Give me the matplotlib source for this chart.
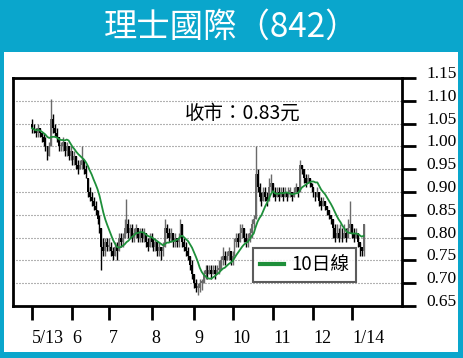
import matplotlib
matplotlib.use("Agg")
import matplotlib.pyplot as plt
from matplotlib.patches import Rectangle
import numpy as np
import pandas as pd

plt.rcParams["lines.scale_dashes"] = False

# ---------------- data ----------------
title = "理士國際（842）"
close_note = "收市：0.83元"
ma_label = "10日線"
start_date, end_date = "2013-05-02", "2014-01-10"
holidays = ["2013-05-17", "2013-06-12", "2013-07-01", "2013-09-20",
            "2013-10-01", "2013-10-14", "2013-12-25", "2013-12-26", "2014-01-01"]
month_labels = ["5/13", "6", "7", "8", "9", "10", "11", "12", "1/14"]
y_ticks = [0.65, 0.70, 0.75, 0.80, 0.85, 0.90, 0.95, 1.00, 1.05, 1.10, 1.15]

opens = [1.05, 1.04, 1.035, 1.03, 1.04, 1.03, 1.02, 1.01, 1.00, 0.98, 1.00, 1.06, 1.04, 1.03, 1.02, 1.00, 1.00, 1.01, 0.99, 1.00, 0.98,
         0.99, 0.97, 0.98, 0.96, 0.95, 0.96, 0.97, 0.95, 0.93, 0.90, 0.89, 0.88, 0.87, 0.86, 0.84, 0.82, 0.78, 0.77, 0.79,
         0.78, 0.78, 0.77, 0.76, 0.78, 0.77, 0.80, 0.79, 0.80, 0.82, 0.83, 0.81, 0.82, 0.80, 0.81, 0.82, 0.80, 0.81, 0.80, 0.81, 0.79, 0.78,
         0.80, 0.79, 0.78, 0.79, 0.77, 0.78, 0.77, 0.78, 0.82, 0.81, 0.80, 0.81, 0.79, 0.80, 0.79, 0.80, 0.83, 0.79, 0.78, 0.77, 0.76, 0.74,
         0.72, 0.70, 0.69, 0.69, 0.70, 0.70, 0.72, 0.73, 0.72, 0.73, 0.72, 0.73, 0.72, 0.73, 0.73, 0.75, 0.76, 0.75, 0.76, 0.77,
         0.75, 0.76, 0.79, 0.80, 0.79, 0.81, 0.82, 0.80, 0.79, 0.80, 0.81, 0.83, 0.84, 0.94, 0.91, 0.89, 0.88, 0.90, 0.89, 0.88, 0.91,
         0.92, 0.90, 0.89, 0.90, 0.89, 0.90, 0.89, 0.90, 0.89, 0.90, 0.90, 0.89, 0.90, 0.91, 0.90, 0.96, 0.95, 0.93, 0.92, 0.93, 0.92,
         0.91, 0.90, 0.89, 0.90, 0.88, 0.87, 0.88, 0.87, 0.86, 0.85, 0.84, 0.82, 0.80, 0.81, 0.80, 0.81, 0.80, 0.81, 0.80, 0.82,
         0.83, 0.81, 0.80, 0.81, 0.79, 0.78, 0.77]
highs = [1.06, 1.05, 1.04, 1.05, 1.04, 1.03, 1.03, 1.02, 1.00, 1.01, 1.105, 1.07, 1.05, 1.04, 1.02, 1.01, 1.02, 1.01, 1.01, 1.00, 1.00,
         0.99, 0.99, 0.98, 0.97, 0.97, 1.00, 0.97, 0.96, 0.93, 0.91, 0.90, 0.89, 0.88, 0.86, 0.85, 0.82, 0.80, 0.80, 0.80,
         0.80, 0.79, 0.78, 0.79, 0.79, 0.81, 0.81, 0.81, 0.84, 0.885, 0.84, 0.83, 0.83, 0.82, 0.83, 0.82, 0.82, 0.82, 0.82, 0.81, 0.80, 0.81,
         0.81, 0.80, 0.80, 0.79, 0.79, 0.78, 0.79, 0.84, 0.83, 0.82, 0.82, 0.81, 0.81, 0.80, 0.81, 0.84, 0.83, 0.80, 0.79, 0.78, 0.76, 0.75,
         0.72, 0.71, 0.70, 0.71, 0.71, 0.73, 0.74, 0.74, 0.74, 0.74, 0.74, 0.74, 0.74, 0.75, 0.76, 0.78, 0.77, 0.77, 0.78, 0.77,
         0.77, 0.80, 0.81, 0.81, 0.83, 0.83, 0.82, 0.81, 0.81, 0.82, 0.84, 0.85, 1.00, 0.95, 0.92, 0.90, 0.91, 0.91, 0.90, 0.93, 0.94,
         0.92, 0.91, 0.91, 0.91, 0.91, 0.91, 0.91, 0.90, 0.91, 0.91, 0.90, 0.91, 0.92, 0.91, 0.97, 0.96, 0.95, 0.94, 0.94, 0.93, 0.92,
         0.91, 0.90, 0.91, 0.90, 0.89, 0.89, 0.88, 0.87, 0.86, 0.85, 0.84, 0.83, 0.83, 0.82, 0.83, 0.82, 0.83, 0.82, 0.84, 0.88,
         0.83, 0.82, 0.82, 0.81, 0.79, 0.78, 0.83]
lows = [1.03, 1.03, 1.02, 1.02, 1.02, 1.01, 1.00, 0.99, 0.97, 0.98, 1.00, 1.03, 1.02, 1.01, 0.99, 0.99, 0.99, 0.98, 0.98, 0.97, 0.97,
        0.96, 0.96, 0.95, 0.94, 0.95, 0.95, 0.94, 0.93, 0.89, 0.88, 0.87, 0.86, 0.85, 0.83, 0.81, 0.73, 0.76, 0.76, 0.77,
        0.77, 0.76, 0.75, 0.76, 0.75, 0.77, 0.78, 0.78, 0.80, 0.81, 0.80, 0.80, 0.79, 0.79, 0.80, 0.79, 0.79, 0.79, 0.79, 0.78, 0.77, 0.78,
        0.78, 0.77, 0.77, 0.76, 0.76, 0.75, 0.76, 0.78, 0.80, 0.79, 0.79, 0.78, 0.78, 0.78, 0.78, 0.80, 0.78, 0.77, 0.76, 0.75, 0.73, 0.71,
        0.69, 0.68, 0.675, 0.68, 0.685, 0.70, 0.71, 0.71, 0.72, 0.71, 0.72, 0.71, 0.72, 0.72, 0.73, 0.74, 0.74, 0.75, 0.75, 0.74,
        0.74, 0.76, 0.78, 0.78, 0.79, 0.80, 0.79, 0.78, 0.78, 0.79, 0.80, 0.82, 0.84, 0.90, 0.88, 0.87, 0.88, 0.88, 0.87, 0.88, 0.90,
        0.89, 0.88, 0.89, 0.88, 0.89, 0.88, 0.89, 0.88, 0.89, 0.89, 0.88, 0.89, 0.90, 0.89, 0.90, 0.94, 0.92, 0.91, 0.92, 0.91, 0.90,
        0.89, 0.88, 0.89, 0.87, 0.86, 0.87, 0.86, 0.85, 0.84, 0.83, 0.80, 0.79, 0.80, 0.79, 0.80, 0.79, 0.80, 0.79, 0.80, 0.81,
        0.80, 0.79, 0.80, 0.78, 0.76, 0.76, 0.76]
closes = [1.04, 1.035, 1.03, 1.04, 1.03, 1.02, 1.01, 1.00, 0.98, 1.00, 1.06, 1.04, 1.03, 1.02, 1.00, 1.00, 1.01, 0.99, 1.00, 0.98, 0.99,
          0.97, 0.98, 0.96, 0.95, 0.96, 0.97, 0.95, 0.94, 0.90, 0.89, 0.88, 0.87, 0.86, 0.84, 0.82, 0.78, 0.77, 0.79, 0.78,
          0.78, 0.77, 0.76, 0.78, 0.77, 0.80, 0.79, 0.80, 0.82, 0.83, 0.81, 0.82, 0.80, 0.81, 0.82, 0.80, 0.81, 0.80, 0.81, 0.79, 0.78, 0.80,
          0.79, 0.78, 0.79, 0.77, 0.78, 0.77, 0.78, 0.82, 0.81, 0.80, 0.81, 0.79, 0.80, 0.79, 0.80, 0.83, 0.79, 0.78, 0.77, 0.76, 0.74, 0.72,
          0.70, 0.69, 0.69, 0.70, 0.70, 0.72, 0.73, 0.72, 0.73, 0.72, 0.73, 0.72, 0.73, 0.73, 0.75, 0.76, 0.75, 0.76, 0.77, 0.75,
          0.76, 0.79, 0.80, 0.79, 0.81, 0.82, 0.80, 0.79, 0.80, 0.81, 0.83, 0.84, 0.94, 0.91, 0.89, 0.88, 0.90, 0.89, 0.88, 0.91, 0.92,
          0.90, 0.89, 0.90, 0.89, 0.90, 0.89, 0.90, 0.89, 0.90, 0.90, 0.89, 0.90, 0.91, 0.90, 0.96, 0.95, 0.93, 0.92, 0.93, 0.92, 0.91,
          0.90, 0.89, 0.90, 0.88, 0.87, 0.88, 0.87, 0.86, 0.85, 0.84, 0.82, 0.80, 0.81, 0.80, 0.81, 0.80, 0.81, 0.80, 0.82, 0.83,
          0.81, 0.80, 0.81, 0.79, 0.78, 0.77, 0.83]

# ---------------- derived ----------------
days = pd.bdate_range(start_date, end_date)
days = days[~days.isin(pd.to_datetime(holidays))]
n = len(closes)
assert len(days) == n == len(opens) == len(highs) == len(lows), (len(days), n, len(opens), len(highs), len(lows))
o = np.asarray(opens, float)
h = np.asarray(highs, float)
l = np.asarray(lows, float)
c = np.asarray(closes, float)
x = np.arange(n)
ma10 = pd.Series(c).rolling(10, min_periods=1).mean().to_numpy()
month_key = np.asarray(days.year * 100 + days.month)
month_pos = [int(np.argmax(month_key == k)) for k in pd.unique(month_key)]

# ---------------- styling ----------------
W, H = 463, 358
BLUE = "#0aa6cc"
fig = plt.figure(figsize=(W / 100, H / 100), dpi=100, facecolor=BLUE)
fig.patches.append(Rectangle((3.5 / W, 1 - 352 / H), (458 - 3.5) / W, 300 / H,
                             transform=fig.transFigure, facecolor="white",
                             edgecolor="none", zorder=-5))
fig.text(0.5, 1 - 27 / H, title, ha="center", va="center", color="white",
         fontsize=24, family=["Noto Sans CJK TC", "DejaVu Sans"])

ax = fig.add_axes([13 / W, 1 - 306 / H, (402 - 13) / W, 228 / H])
ax.set_zorder(2)
ax.set_facecolor("white")
ax.set_xlim(-9.85, 191.9)
ax.set_ylim(0.65, 1.15)

for s in ax.spines.values():
    s.set_linewidth(2.0)
    s.set_color("black")

# grid (1px dot, 2px gap)
for yv in y_ticks[1:-1]:
    ax.axhline(yv, color="#666666", lw=0.8, ls=(0, (0.72, 1.44)), zorder=1)

# candles
up = c >= o
col = np.where(up, "#6a6a6a", "#000000")
ax.vlines(x, l, h, colors=col, lw=1.0, zorder=2)
body_lo = np.minimum(o, c)
body_h = np.maximum(np.abs(c - o), 0.004)
ax.bar(x, body_h, bottom=body_lo, width=0.95, color=col, linewidth=0, zorder=3)

# moving average
ma_line, = ax.plot(x, ma10, color="#1e8f3a", lw=1.3, zorder=4)

# ticks
ax.yaxis.tick_right()
ax.set_yticks(y_ticks)
ax.set_yticklabels([f"{v:.2f}" for v in y_ticks], family="Liberation Serif", fontsize=12.5)
ax.tick_params(axis="y", direction="out", length=10, width=2, pad=7.5)
for lab in ax.get_yticklabels():
    lab.set_verticalalignment("baseline")
ax.set_xticks(month_pos)
ax.set_xticklabels(month_labels, family="Liberation Serif", fontsize=13, ha="left")
ax.tick_params(axis="x", direction="out", length=10, width=2, pad=7)

ax.text((185 - 13) / 389, (306 - 113) / 228, close_note, transform=ax.transAxes,
        ha="left", va="center", fontsize=14, family=["Noto Sans CJK TC", "DejaVu Sans"])

leg = ax.legend([ma_line], [ma_label], loc="lower left",
                bbox_to_anchor=((253 - 13) / 389, (306 - 282) / 228),
                borderaxespad=0, frameon=True, fancybox=False,
                prop={"family": ["Noto Sans CJK TC", "DejaVu Sans"], "size": 13.5},
                handlelength=1.3, handletextpad=0.4, borderpad=0.35)
leg.get_frame().set_edgecolor("#333333")
leg.get_frame().set_linewidth(1.5)
leg.get_lines()[0].set_linewidth(3)

fig.savefig("out.png", dpi=100, facecolor=BLUE)
